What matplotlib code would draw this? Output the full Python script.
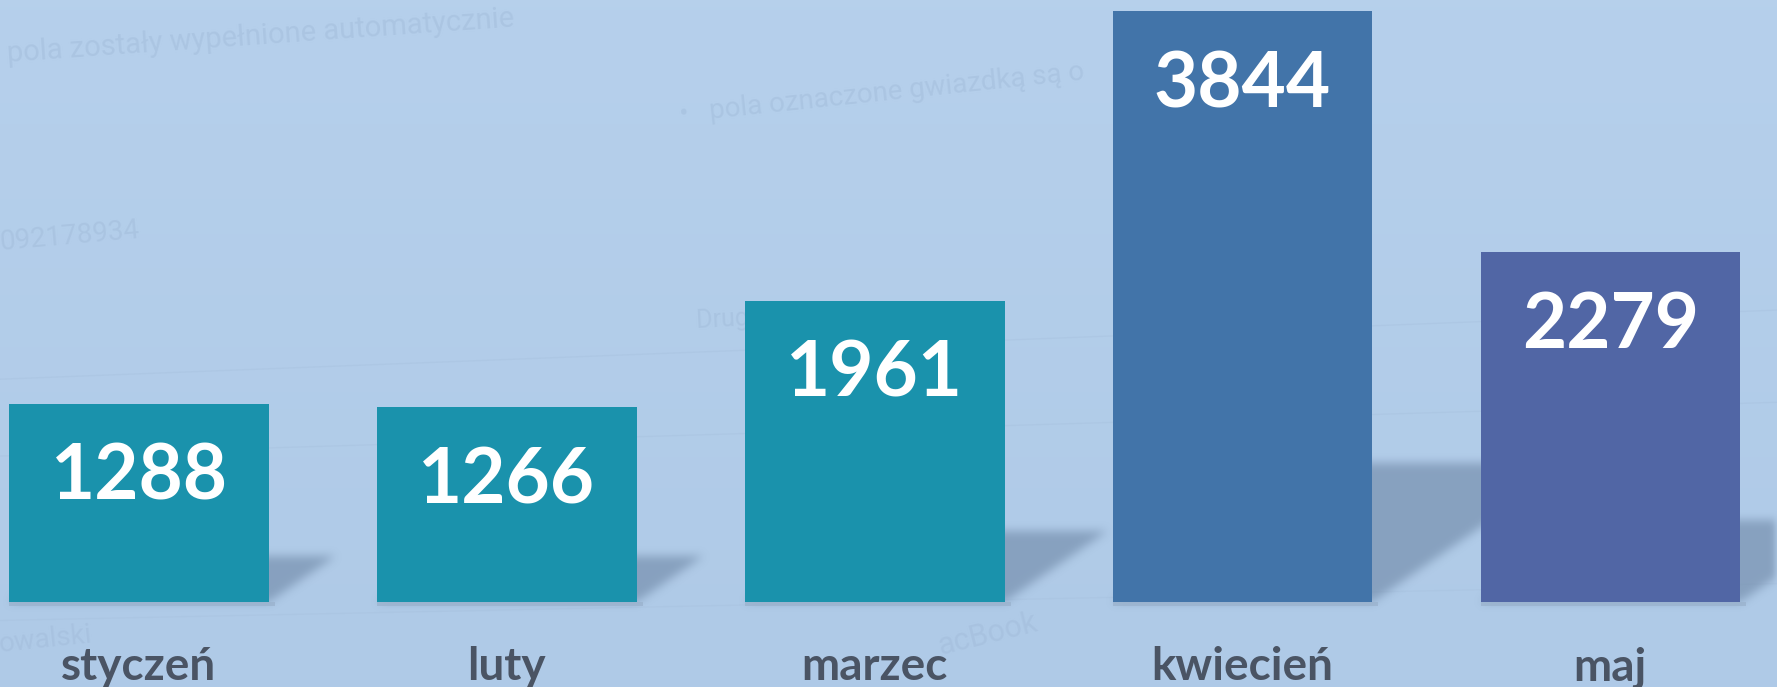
import numpy as np
import matplotlib
matplotlib.use("Agg")
import matplotlib.pyplot as plt
from matplotlib.path import Path
from matplotlib.patches import Polygon

# data
months = ["styczeń", "luty", "marzec", "kwiecień", "maj"]
values = [1288, 1266, 1961, 3844, 2279]
bar_colors = ["#1a92ac", "#1a92ac", "#1a92ac", "#4274a9", "#5166a5"]

# faint leftovers of the screenshot behind the chart
ghost_texts = ["pola zostały wypełnione automatycznie", "092178934",
               "•   pola oznaczone gwiazdką są o", "Drugie imię", "owalski", "acBook"]

W, H = 1777, 687
fig = plt.figure(figsize=(W / 100, H / 100), dpi=100)
ax = fig.add_axes([0, 0, 1, 1])
xmin, xmax = -0.378, 4.453
ymin, ymax = -553, 3918
ax.set_xlim(xmin, xmax)
ax.set_ylim(ymin, ymax)
ax.axis("off")

px_x = (xmax - xmin) / W   # data units per pixel
px_y = (ymax - ymin) / H

# background: soft vertical gradient
grad = np.linspace(0, 1, 200).reshape(-1, 1)
top = np.array([0.714, 0.816, 0.925])
bot = np.array([0.686, 0.792, 0.906])
img = top + (bot - top) * grad[..., None]
img = np.repeat(img, 2, axis=1)
ax.imshow(img, extent=[xmin, xmax, ymin, ymax], aspect="auto", zorder=0)

# faint diagonal lines
for y0, y1 in [(1450, 1900), (950, 1300), (-120, 120)]:
    ax.plot([xmin, xmax], [y0, y1], color="#a9c3e0", lw=1.0, alpha=0.5, zorder=1)

# (left px, baseline px from top, rotation, size)
gt_pos = [(8, 62, 4, 21), (0, 250, 5, 20), (680, 122, 6, 20),
          (697, 328, 3, 18), (0, 652, 6, 20), (940, 655, 14, 22)]
for txt, (gx, gy, rot, fs) in zip(ghost_texts, gt_pos):
    ax.text(gx / W, 1 - gy / H, txt, transform=ax.transAxes, fontsize=fs,
            color="#a3bddb", alpha=0.55, rotation=rot, va="baseline",
            rotation_mode="anchor", family="Roboto", zorder=1)

width = 0.706
x = np.arange(len(months))

# cast shadows behind the bars, rasterised and blurred
yy, xx = np.mgrid[0:H, 0:W]
pts = np.column_stack([xx.ravel() + 0.5, yy.ravel() + 0.5])
mask = np.zeros(H * W)
for xi, v in zip(x, values):
    h_px = v / px_y
    l = (xi - width / 2 - xmin) / px_x
    r = (xi + width / 2 - xmin) / px_x
    b = (ymax - 0) / px_y
    s = 0.34 * h_px
    t = 0.235 * h_px
    path = Path([(l, b), (r, b), (r + s, b - t), (l + s, b - t)])
    mask = np.maximum(mask, path.contains_points(pts).astype(float))
mask = mask.reshape(H, W)


def box_blur(a, rad, axis):
    k = np.ones(2 * rad + 1) / (2 * rad + 1)
    return np.apply_along_axis(lambda m: np.convolve(m, k, mode="same"), axis, a)


for _ in range(3):
    mask = box_blur(mask, 4, 1)
    mask = box_blur(mask, 4, 0)

shadow = np.zeros((H, W, 4))
shadow[..., 0] = 0.40
shadow[..., 1] = 0.50
shadow[..., 2] = 0.62
shadow[..., 3] = mask * 0.55
ax.imshow(shadow, extent=[xmin, xmax, ymin, ymax], aspect="auto",
          origin="upper", zorder=2, interpolation="nearest")

# thin shadow line under each bar
for xi in x:
    ax.add_patch(Polygon([(xi - width / 2, 0), (xi + width / 2 + 6 * px_x, 0),
                          (xi + width / 2 + 6 * px_x, -4 * px_y), (xi - width / 2, -4 * px_y)],
                         facecolor="#9bb3ce", edgecolor="none", alpha=0.8, zorder=2))

ax.bar(x, values, width=width, color=bar_colors, zorder=3)

for xi, v in zip(x, values):
    ax.annotate(str(v), (xi, v), xytext=(0, -69), textcoords="offset points",
                ha="center", va="baseline", fontsize=55, fontweight="bold",
                color="white", family="Lato", zorder=4)

for xi, m in zip(x, months):
    ax.text(xi, -78 * px_y, m, ha="center", va="baseline", fontsize=33,
            fontweight="bold", color="#4a5464", family="Lato", zorder=4)

fig.savefig("out.png", dpi=100)
